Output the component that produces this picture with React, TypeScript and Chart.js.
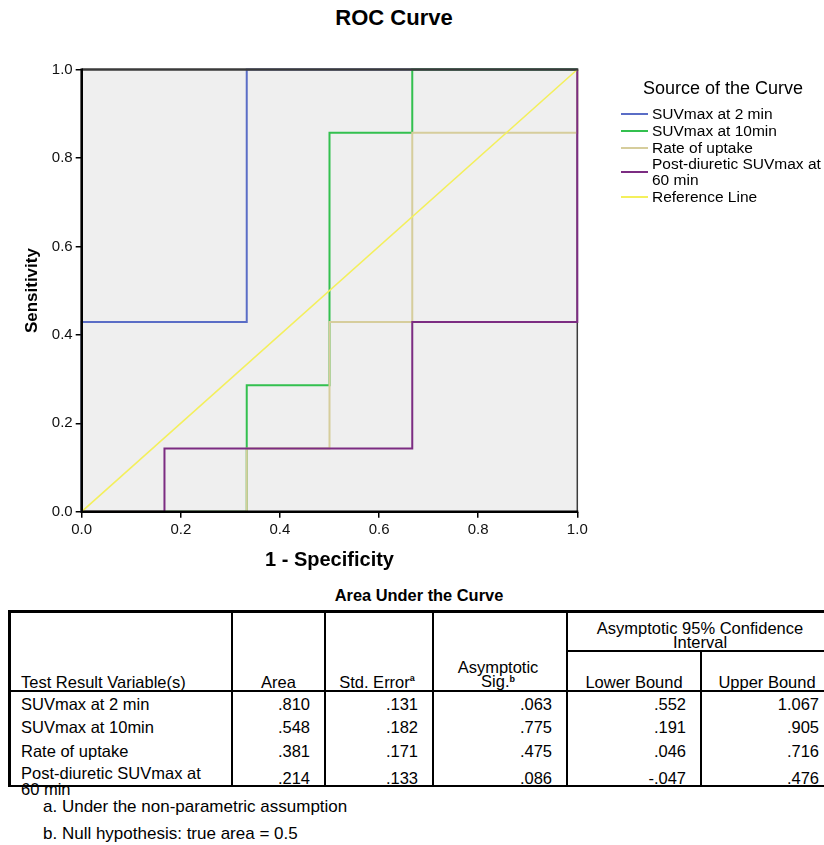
import React, { useEffect, useRef } from "react";
import { Chart, registerables } from "chart.js";

Chart.register(...registerables);

// ---------- chart data ----------
const seriesNames = [
  "SUVmax at 2 min",
  "SUVmax at 10min",
  "Rate of uptake",
  "Post-diuretic SUVmax at 60 min",
  "Reference Line",
];
const seriesColors = ["#5a6dc6", "#33c04f", "#d6cd9c", "#7c2c82", "#f4f05c"];

const suv2X = [0, 0, 0.333, 0.333, 1];
const suv2Y = [0, 0.429, 0.429, 1, 1];
const suv10X = [0, 0.333, 0.333, 0.5, 0.5, 0.667, 0.667, 1];
const suv10Y = [0, 0, 0.286, 0.286, 0.857, 0.857, 1, 1];
const rateX = [0, 0.333, 0.333, 0.5, 0.5, 0.667, 0.667, 1, 1];
const rateY = [0, 0, 0.143, 0.143, 0.429, 0.429, 0.857, 0.857, 1];
const postX = [0, 0.167, 0.167, 0.667, 0.667, 1, 1];
const postY = [0, 0, 0.143, 0.143, 0.429, 0.429, 1];
const refX = [0, 1];
const refY = [0, 1];

const axisTicks = [0, 0.2, 0.4, 0.6, 0.8, 1.0];

// ---------- table data ----------
const tableVars = ["SUVmax at 2 min", "SUVmax at 10min", "Rate of uptake", "Post-diuretic SUVmax at|60 min"];
const areaVals = [".810", ".548", ".381", ".214"];
const stdErrVals = [".131", ".182", ".171", ".133"];
const sigVals = [".063", ".775", ".475", ".086"];
const lowerVals = [".552", ".191", ".046", "-.047"];
const upperVals = ["1.067", ".905", ".716", ".476"];
const footnotes = ["a. Under the non-parametric assumption", "b. Null hypothesis: true area = 0.5"];

const FONT = '"Liberation Sans", Arial, Helvetica, sans-serif';

function pts(xs: number[], ys: number[]) {
  return xs.map((x, i) => ({ x, y: ys[i] }));
}

const framePlugin = {
  id: "frame",
  beforeDraw(chart: any) {
    const { ctx, chartArea: a } = chart;
    ctx.save();
    ctx.fillStyle = "#efefef";
    ctx.fillRect(a.left, a.top, a.right - a.left, a.bottom - a.top);
    ctx.restore();
  },
  beforeDatasetsDraw(chart: any) {
    const { ctx, chartArea: a } = chart;
    ctx.save();
    ctx.strokeStyle = "#3c3c3c";
    ctx.lineWidth = 1.5;
    ctx.beginPath();
    ctx.moveTo(a.right, a.top);
    ctx.lineTo(a.right, a.bottom);
    ctx.stroke();
    ctx.restore();
  },
  afterDatasetsDraw(chart: any) {
    const { ctx, chartArea: a } = chart;
    ctx.save();
    ctx.strokeStyle = "#3a3a3a";
    ctx.lineWidth = 2.6;
    ctx.beginPath();
    ctx.moveTo(a.left, a.top);
    ctx.lineTo(a.right + 1, a.top);
    ctx.stroke();
    ctx.strokeStyle = "#000";
    ctx.lineWidth = 2.6;
    ctx.beginPath();
    ctx.moveTo(a.left, a.top - 1);
    ctx.lineTo(a.left, a.bottom);
    ctx.lineTo(a.right + 1, a.bottom);
    ctx.stroke();
    ctx.restore();
  },
};

function RocChart() {
  const ref = useRef<HTMLCanvasElement | null>(null);
  useEffect(() => {
    if (!ref.current) return;
    const xs = [suv2X, suv10X, rateX, postX, refX];
    const ys = [suv2Y, suv10Y, rateY, postY, refY];
    const orders = [4, 3, 2, 1, 0];
    const widths = [2, 2, 2, 2, 1.6];
    const chart = new Chart(ref.current, {
      type: "scatter",
      data: {
        datasets: seriesNames.map((name, i) => ({
          label: name,
          data: pts(xs[i], ys[i]),
          showLine: true,
          borderColor: seriesColors[i],
          backgroundColor: seriesColors[i],
          borderWidth: widths[i],
          pointRadius: 0,
          pointHoverRadius: 0,
          tension: 0,
          clip: false as any,
          order: orders[i],
        })),
      },
      options: {
        animation: false,
        responsive: false,
        maintainAspectRatio: false,
        events: [],
        layout: { padding: { left: 0, top: 69.5, right: 246.7, bottom: 0 } },
        plugins: {
          legend: { display: false },
          title: { display: false },
          tooltip: { enabled: false },
        },
        scales: {
          x: {
            type: "linear",
            min: 0,
            max: 1,
            afterBuildTicks: (scale: any) => {
              scale.ticks = axisTicks.map((v) => ({ value: v }));
            },
            afterFit: (scale: any) => {
              scale.height = 68.3;
            },
            border: { display: false },
            grid: {
              drawOnChartArea: false,
              drawTicks: true,
              tickLength: 6,
              color: "#000",
              lineWidth: 1.5,
            },
            ticks: {
              autoSkip: false,
              maxRotation: 0,
              color: "#111",
              font: { family: FONT, size: 15 },
              padding: 3,
              callback: (v: any) => Number(v).toFixed(1),
            },
            title: {
              display: true,
              text: "1 - Specificity",
              color: "#000",
              font: { family: FONT, size: 20, weight: "bold" },
              padding: { top: 0, bottom: 8 },
            },
          },
          y: {
            type: "linear",
            min: 0,
            max: 1,
            afterBuildTicks: (scale: any) => {
              scale.ticks = axisTicks.map((v) => ({ value: v }));
            },
            afterFit: (scale: any) => {
              scale.width = 81.7;
            },
            border: { display: false },
            grid: {
              drawOnChartArea: false,
              drawTicks: true,
              tickLength: 6,
              color: "#000",
              lineWidth: 1.5,
            },
            ticks: {
              autoSkip: false,
              color: "#111",
              font: { family: FONT, size: 15 },
              padding: 3,
              callback: (v: any) => Number(v).toFixed(1),
            },
            title: {
              display: true,
              text: "Sensitivity",
              color: "#000",
              font: { family: FONT, size: 17, weight: "bold" },
              padding: { top: 22, bottom: 0 },
            },
          },
        },
      } as any,
      plugins: [framePlugin],
    });
    return () => chart.destroy();
  }, []);
  return (
    <canvas
      ref={ref}
      width={824}
      height={580}
      style={{ position: "absolute", left: 0, top: 0, width: 824, height: 580 }}
    />
  );
}

function Txt(props: {
  x: number;
  y: number;
  children: React.ReactNode;
  align?: "left" | "right" | "center";
  size?: number;
  bold?: boolean;
  w?: number;
  lh?: number;
}) {
  const { x, y, align = "left", size = 16.5, bold = false, w = 300, lh = 18 } = props;
  let left = x;
  if (align === "right") left = x - w;
  if (align === "center") left = x - w / 2;
  return (
    <div
      style={{
        position: "absolute",
        left,
        top: y - lh / 2,
        width: w,
        lineHeight: lh + "px",
        fontSize: size,
        fontWeight: bold ? "bold" : "normal",
        textAlign: align,
        whiteSpace: "nowrap",
        color: "#000",
      }}
    >
      {props.children}
    </div>
  );
}

function Line(props: { x: number; y: number; w: number; h: number; c?: string }) {
  return (
    <div
      style={{
        position: "absolute",
        left: props.x,
        top: props.y,
        width: props.w,
        height: props.h,
        background: props.c || "#000",
      }}
    />
  );
}

function Legend() {
  const rows = [114, 131, 148, 172, 197];
  return (
    <>
      <Txt x={643} y={88} size={18} w={200}>
        Source of the Curve
      </Txt>
      {seriesNames.map((name, i) => {
        const parts = i === 3 ? ["Post-diuretic SUVmax at", "60 min"] : [name];
        return (
          <React.Fragment key={name}>
            <Line x={621} y={rows[i] - 1} w={27} h={2} c={seriesColors[i]} />
            {parts.length === 1 ? (
              <Txt x={652} y={rows[i]} size={15.5} w={200}>
                {parts[0]}
              </Txt>
            ) : (
              <>
                <Txt x={652} y={164} size={15.5} w={200}>
                  {parts[0]}
                </Txt>
                <Txt x={652} y={180} size={15.5} w={200}>
                  {parts[1]}
                </Txt>
              </>
            )}
          </React.Fragment>
        );
      })}
    </>
  );
}

function AucTable() {
  const colR = [232, 325, 433, 567, 701, 834];
  const rowY = [704, 726.5, 750.5, 777.5];
  const cols = [areaVals, stdErrVals, sigVals, lowerVals, upperVals];
  const top = 611;
  const bottom = 787;
  const supStyle = { fontSize: 9, fontWeight: "bold" as const, verticalAlign: "top", lineHeight: "10px" };
  return (
    <>
      <Txt x={419} y={595} align="center" bold size={16.4} w={300}>
        Area Under the Curve
      </Txt>
      {/* borders */}
      <Line x={8} y={top - 1} w={830} h={2.5} />
      <Line x={8} y={689.5} w={830} h={2} />
      <Line x={8} y={bottom - 2.5} w={830} h={2.5} />
      <Line x={567} y={650} w={270} h={1.5} />
      <Line x={8} y={top - 1} w={2.5} h={bottom - top + 1} />
      {[232, 325, 433, 567].map((x) => (
        <Line key={x} x={x - 1} y={top - 1} w={2} h={bottom - top + 1} />
      ))}
      <Line x={700} y={650} w={2} h={bottom - 650} />
      {/* header */}
      <Txt x={21} y={682} size={16.5}>
        Test Result Variable(s)
      </Txt>
      <Txt x={278.5} y={682} align="center" w={90}>
        Area
      </Txt>
      <Txt x={377} y={682} align="center" w={108}>
        Std. Error<sup style={supStyle}>a</sup>
      </Txt>
      <Txt x={498} y={667} align="center" w={134} lh={14}>
        Asymptotic
      </Txt>
      <Txt x={498} y={681} align="center" w={134} lh={14}>
        Sig.<sup style={supStyle}>b</sup>
      </Txt>
      <Txt x={700} y={628} align="center" w={270} lh={14}>
        Asymptotic 95% Confidence
      </Txt>
      <Txt x={700} y={642} align="center" w={270} lh={14}>
        Interval
      </Txt>
      <Txt x={634} y={682} align="center" w={134}>
        Lower Bound
      </Txt>
      <Txt x={767} y={682} align="center" w={134}>
        Upper Bound
      </Txt>
      {/* rows */}
      {tableVars.map((v, r) => {
        const lines = v.split("|");
        return (
          <React.Fragment key={v}>
            {lines.length === 1 ? (
              <Txt x={21} y={rowY[r]}>{lines[0]}</Txt>
            ) : (
              <>
                <Txt x={21} y={773}>{lines[0]}</Txt>
                <Txt x={21} y={789}>{lines[1]}</Txt>
              </>
            )}
            {cols.map((c, ci) => (
              <Txt key={ci} x={colR[ci + 1] - 15} y={rowY[r]} align="right" w={120}>
                {c[r]}
              </Txt>
            ))}
          </React.Fragment>
        );
      })}
      <Txt x={43} y={807} size={17} w={500}>
        {footnotes[0]}
      </Txt>
      <Txt x={43} y={834} size={17} w={500}>
        {footnotes[1]}
      </Txt>
    </>
  );
}

export default function App() {
  return (
    <div
      style={{
        position: "absolute",
        left: 0,
        top: 0,
        width: 824,
        height: 845,
        overflow: "hidden",
        background: "#fff",
        fontFamily: FONT,
        color: "#000",
      }}
    >
      <Txt x={394} y={18} align="center" bold size={22} w={300} lh={26}>
        ROC Curve
      </Txt>
      <RocChart />
      <Legend />
      <AucTable />
    </div>
  );
}
